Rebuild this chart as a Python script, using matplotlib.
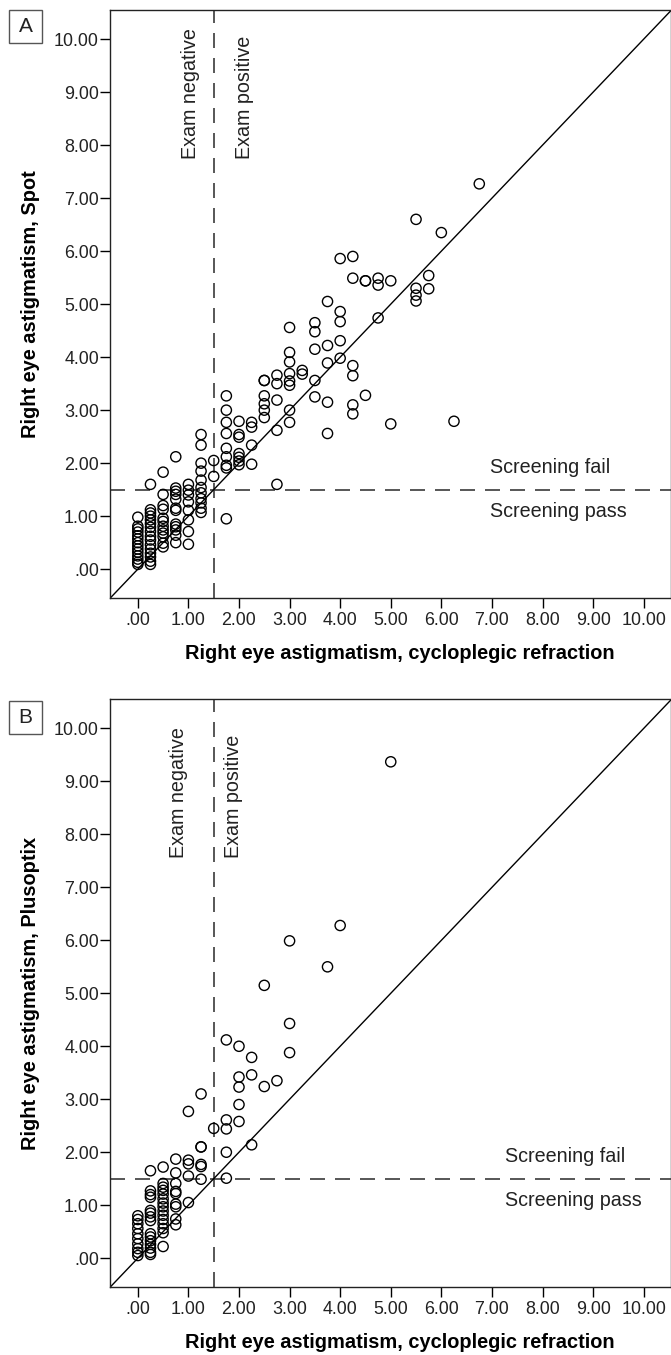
import matplotlib
matplotlib.use('Agg')
from matplotlib import pyplot as plt
from matplotlib.ticker import FuncFormatter
import matplotlib.patches as patches

plt.rcParams['font.family'] = ['Liberation Sans', 'DejaVu Sans']

# Panel A: cycloplegic refraction (x) vs Spot (y), grouped by x value
spot_x = [0.0, 0.25, 0.5, 0.75, 1.0, 1.25, 1.5, 1.75, 2.0, 2.25, 2.5, 2.75,
          3.0, 3.25, 3.5, 3.75, 4.0, 4.25, 4.5, 4.75, 5.0, 5.5, 5.75, 6.0, 6.25, 6.75]
spot_y = [
    [0.98, 0.81, 0.76, 0.70, 0.63, 0.57, 0.50, 0.44, 0.38, 0.32, 0.25, 0.19, 0.13, 0.09],
    [1.60, 1.12, 1.06, 1.00, 0.93, 0.86, 0.79, 0.71, 0.62, 0.55, 0.46, 0.38, 0.30, 0.23, 0.15, 0.09],
    [1.83, 1.41, 1.20, 1.13, 0.96, 0.90, 0.81, 0.74, 0.68, 0.61, 0.49, 0.42],
    [2.12, 1.53, 1.47, 1.41, 1.32, 1.15, 1.11, 0.85, 0.80, 0.74, 0.64, 0.50],
    [1.60, 1.49, 1.40, 1.27, 1.11, 0.93, 0.71, 0.47],
    [2.54, 2.34, 2.00, 1.85, 1.68, 1.54, 1.44, 1.33, 1.25, 1.15, 1.07],
    [2.05, 1.75],
    [3.27, 3.00, 2.77, 2.56, 2.28, 2.12, 1.96, 1.91, 0.95],
    [2.79, 2.54, 2.49, 2.18, 2.11, 2.04, 1.97],
    [2.77, 2.68, 2.34, 1.98],
    [3.56, 3.56, 3.27, 3.12, 3.00, 2.86],
    [3.66, 3.50, 3.19, 2.62, 1.60],
    [4.56, 4.09, 3.91, 3.69, 3.55, 3.47, 3.00, 2.77],
    [3.75, 3.68],
    [4.65, 4.48, 4.15, 3.56, 3.25],
    [5.05, 4.22, 3.89, 3.15, 2.56],
    [5.86, 4.86, 4.67, 4.31, 3.98],
    [5.90, 5.49, 3.84, 3.65, 3.10, 2.93],
    [5.44, 5.44, 3.28],
    [5.49, 5.36, 4.74],
    [5.44, 2.74],
    [6.60, 5.30, 5.17, 5.06],
    [5.54, 5.29],
    [6.35],
    [2.79],
    [7.27],
]

# Panel B: cycloplegic refraction (x) vs Plusoptix (y)
plus_x = [0.0, 0.25, 0.5, 0.75, 1.0, 1.25, 1.5, 1.75, 2.0, 2.25, 2.5, 2.75,
          3.0, 3.75, 4.0, 5.0]
plus_y = [
    [0.80, 0.73, 0.65, 0.56, 0.46, 0.37, 0.27, 0.18, 0.11, 0.05],
    [1.65, 1.27, 1.20, 1.15, 0.90, 0.85, 0.78, 0.71, 0.46, 0.40, 0.33, 0.26, 0.19, 0.11, 0.07],
    [1.72, 1.41, 1.34, 1.28, 1.21, 1.12, 1.04, 0.97, 0.89, 0.81, 0.73, 0.65, 0.56, 0.48, 0.22],
    [1.87, 1.61, 1.41, 1.26, 1.22, 1.02, 0.97, 0.74, 0.63],
    [2.77, 1.85, 1.78, 1.55, 1.05],
    [3.10, 2.10, 2.10, 1.77, 1.73, 1.49],
    [2.45],
    [4.12, 2.61, 2.44, 2.00, 1.51],
    [4.00, 3.42, 3.23, 2.90, 2.58],
    [3.79, 3.46, 2.14],
    [5.15, 3.24],
    [3.35],
    [5.99, 4.43, 3.88],
    [5.50],
    [6.28],
    [9.37],
]

ticks = [0, 1, 2, 3, 4, 5, 6, 7, 8, 9, 10]
cutoff = 1.5


def tick_fmt(v, pos):
    s = '%.2f' % v
    if s.startswith('0'):
        s = s[1:]
    return s


def draw_panel(ax, xs, ys, ylabel, neg_x, pos_x, exam_y, scr_x):
    px = []
    py = []
    for x, col in zip(xs, ys):
        for y in col:
            px.append(x)
            py.append(y)
    ax.set_xlim(-0.55, 10.54)
    ax.set_ylim(-0.55, 10.55)
    ax.plot([-0.55, 10.55], [-0.55, 10.55], color='black', lw=1.0, zorder=2)
    ax.axvline(cutoff, color='#3a3a3a', lw=1.2, ls=(0, (9, 6)), zorder=1)
    ax.axhline(cutoff, color='#3a3a3a', lw=1.2, ls=(0, (9, 6)), zorder=1)
    ax.scatter(px, py, s=54, facecolors='none', edgecolors='black',
               linewidths=1.0, zorder=3)

    ax.set_xticks(ticks)
    ax.set_yticks(ticks)
    ax.xaxis.set_major_formatter(FuncFormatter(tick_fmt))
    ax.yaxis.set_major_formatter(FuncFormatter(tick_fmt))
    ax.tick_params(direction='out', length=7, width=1, labelsize=12.9,
                   colors='black', labelcolor='#222222')
    ax.tick_params(axis='x', pad=3)
    ax.tick_params(axis='y', pad=1)
    for sp in ax.spines.values():
        sp.set_linewidth(1)
        sp.set_color('#222222')

    ax.set_xlabel('Right eye astigmatism, cycloplegic refraction',
                  fontsize=14.4, fontweight='bold')
    ax.set_ylabel(ylabel, fontsize=14.4, fontweight='bold')
    ax.xaxis.set_label_coords(0.517, -0.078)
    ax.yaxis.set_label_coords(-0.124, 0.5)

    ax.text(neg_x, exam_y, 'Exam negative', rotation=90, ha='center',
            va='bottom', fontsize=14.2, color='#222222')
    ax.text(pos_x, exam_y, 'Exam positive', rotation=90, ha='center',
            va='bottom', fontsize=14.2, color='#222222')
    ax.text(scr_x, 1.91, 'Screening fail', ha='left', va='center',
            fontsize=14.2, color='#222222')
    ax.text(scr_x, 1.09, 'Screening pass', ha='left', va='center',
            fontsize=14.2, color='#222222')


fig = plt.figure(figsize=(6.71, 13.55), dpi=100)
W, H = 671.0, 1355.0

axA = fig.add_axes([110 / W, 1 - 598.3 / H, 561 / W, 588.3 / H])
draw_panel(axA, spot_x, spot_y, 'Right eye astigmatism, Spot',
           1.04, 2.11, 7.74, 6.96)

axB = fig.add_axes([110 / W, 1 - 1287.3 / H, 561 / W, 588.0 / H])
draw_panel(axB, plus_x, plus_y, 'Right eye astigmatism, Plusoptix',
           0.81, 1.885, 7.56, 7.26)

# panel letters in boxes
for letter, top in [('A', 10), ('B', 701)]:
    box = patches.Rectangle((9 / W, 1 - (top + 33) / H), 33 / W, 33 / H,
                            transform=fig.transFigure, fill=False,
                            edgecolor='#555555', lw=1)
    fig.patches.append(box)
    fig.text(25.5 / W, 1 - (top + 16.5) / H, letter, ha='center', va='center',
             fontsize=15, color='#222222')

fig.savefig('out.png', dpi=100)
